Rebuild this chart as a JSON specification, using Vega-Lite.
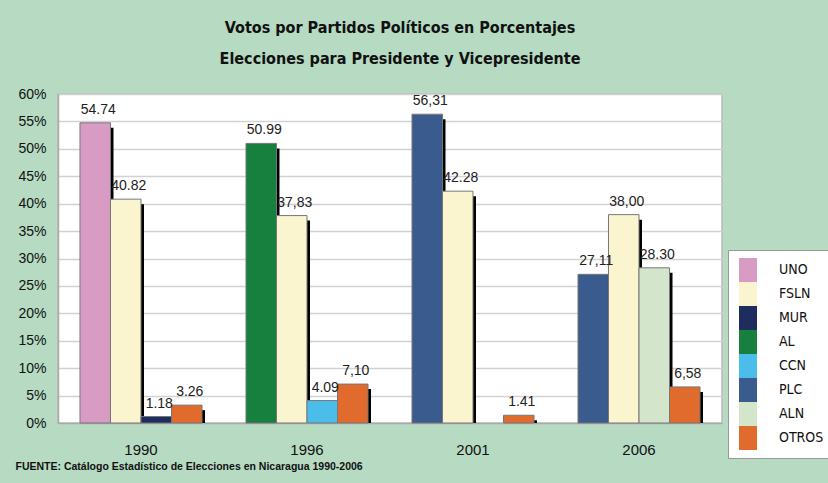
{
  "$schema": "https://vega.github.io/schema/vega-lite/v6.json",
  "autosize": {"type": "none"},
  "width": 664,
  "height": 329,
  "padding": {"left": 58, "top": 94, "right": 106, "bottom": 60},
  "background": "#b6dac2",
  "title": {
    "text": ["Votos por Partidos Políticos en Porcentajes", "Elecciones para Presidente y Vicepresidente"],
    "font": "DejaVu Sans Condensed",
    "fontSize": 16,
    "fontWeight": "bold",
    "color": "#111111",
    "lineHeight": 31,
    "anchor": "middle",
    "dx": 10,
    "offset": 20
  },
  "data": {
    "values": [
      {"anio": "1990", "orden": 1, "partido": "UNO", "porcentaje": 54.74, "etiqueta": "54.74"},
      {"anio": "1990", "orden": 2, "partido": "FSLN", "porcentaje": 40.82, "etiqueta": "40.82"},
      {"anio": "1990", "orden": 3, "partido": "MUR", "porcentaje": 1.18, "etiqueta": "1.18"},
      {"anio": "1990", "orden": 4, "partido": "OTROS", "porcentaje": 3.26, "etiqueta": "3.26"},
      {"anio": "1996", "orden": 1, "partido": "AL", "porcentaje": 50.99, "etiqueta": "50.99"},
      {"anio": "1996", "orden": 2, "partido": "FSLN", "porcentaje": 37.83, "etiqueta": "37,83"},
      {"anio": "1996", "orden": 3, "partido": "CCN", "porcentaje": 4.09, "etiqueta": "4.09"},
      {"anio": "1996", "orden": 4, "partido": "OTROS", "porcentaje": 7.10, "etiqueta": "7,10"},
      {"anio": "2001", "orden": 1, "partido": "PLC", "porcentaje": 56.31, "etiqueta": "56,31"},
      {"anio": "2001", "orden": 2, "partido": "FSLN", "porcentaje": 42.28, "etiqueta": "42.28"},
      {"anio": "2001", "orden": 4, "partido": "OTROS", "porcentaje": 1.41, "etiqueta": "1.41"},
      {"anio": "2006", "orden": 1, "partido": "PLC", "porcentaje": 27.11, "etiqueta": "27,11"},
      {"anio": "2006", "orden": 2, "partido": "FSLN", "porcentaje": 38.00, "etiqueta": "38,00"},
      {"anio": "2006", "orden": 3, "partido": "ALN", "porcentaje": 28.30, "etiqueta": "28.30"},
      {"anio": "2006", "orden": 4, "partido": "OTROS", "porcentaje": 6.58, "etiqueta": "6,58"}
    ]
  },
  "encoding": {
    "x": {
      "field": "anio", "type": "nominal",
      "scale": {"paddingInner": 0.265, "paddingOuter": 0.1325},
      "axis": {
        "title": "FUENTE: Catálogo Estadístico de Elecciones en Nicaragua 1990-2006",
        "titleFont": "Liberation Sans",
        "titleFontSize": 10.5,
        "titleFontWeight": "bold",
        "titleColor": "#111111",
        "titleAnchor": "start",
        "titleAlign": "left",
        "titleX": -43,
        "titleY": 38,
        "labelAngle": 0,
        "labelFont": "Liberation Sans",
        "labelFontSize": 15,
        "labelColor": "#111111",
        "labelPadding": 19,
        "ticks": false,
        "domainColor": "#aaaaaa",
        "domainWidth": 1.5
      }
    },
    "y": {
      "field": "porcentaje", "type": "quantitative",
      "scale": {"domain": [0, 60], "nice": false},
      "axis": {
        "title": null,
        "values": [0, 5, 10, 15, 20, 25, 30, 35, 40, 45, 50, 55, 60],
        "labelExpr": "datum.value + '%'",
        "labelFont": "Liberation Sans",
        "labelFontSize": 14,
        "labelColor": "#111111",
        "labelPadding": 12,
        "ticks": false,
        "domainColor": "#aaaaaa",
        "domainWidth": 1.5,
        "gridColor": "#d2d2d2",
        "gridWidth": 1.5
      }
    }
  },
  "layer": [
    {
      "mark": {"type": "bar", "color": "#000000", "yOffset": 5, "clip": true},
      "encoding": {
        "xOffset": {"field": "orden", "type": "ordinal", "scale": {"domain": [1, 2, 3, 4], "range": [3, 125], "paddingInner": 0, "paddingOuter": 0}}
      }
    },
    {
      "layer": [
        {
          "mark": {"type": "bar", "stroke": "#777777", "strokeWidth": 1},
          "encoding": {
            "color": {
              "field": "partido", "type": "nominal",
              "scale": {
                "domain": ["UNO", "FSLN", "MUR", "AL", "CCN", "PLC", "ALN", "OTROS"],
                "range": ["#d89cc4", "#faf5cf", "#1c2d5e", "#17803f", "#4bbdea", "#3a5b8d", "#d3e6cb", "#e06b2c"]
              },
              "legend": {
                "title": null,
                "orient": "none",
                "legendX": 670,
                "legendY": 156,
                "padding": 8,
                "fillColor": "#ffffff",
                "strokeColor": "#999999",
                "symbolType": "M-0.75,-1H0.75V1H-0.75Z",
                "symbolSize": 576,
                "symbolStrokeWidth": 0,
                "symbolOpacity": 1,
                "rowPadding": 0,
                "labelOffset": 19,
                "labelFont": "DejaVu Sans Condensed",
                "labelFontSize": 14,
                "labelColor": "#111111",
                "labelLimit": 80
              }
            }
          }
        },
        {
          "mark": {"type": "text", "dx": 3, "dy": -13, "font": "Liberation Sans", "fontSize": 14, "color": "#222222"},
          "encoding": {"text": {"field": "etiqueta"}}
        }
      ],
      "encoding": {
        "xOffset": {"field": "orden", "type": "ordinal", "scale": {"domain": [1, 2, 3, 4], "paddingInner": 0, "paddingOuter": 0}}
      }
    }
  ],
  "resolve": {"scale": {"xOffset": "independent"}},
  "config": {"view": {"fill": "#ffffff", "stroke": "#bbbbbb", "strokeWidth": 1.5}}
}
